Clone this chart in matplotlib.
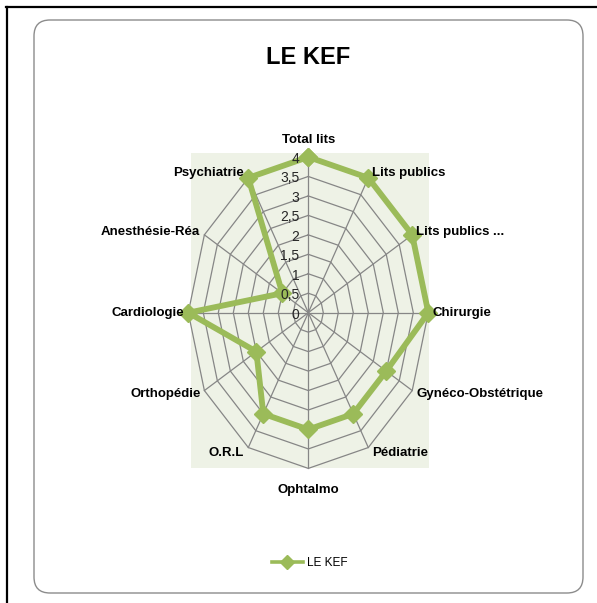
import numpy as np
import matplotlib
matplotlib.use('Agg')
import matplotlib.pyplot as plt
from matplotlib.patches import FancyBboxPatch
from matplotlib.lines import Line2D

# Données du graphique radar (LE KEF).
categories = ['Total lits', 'Lits publics', 'Lits publics ...', 'Chirurgie',
              'Gynéco-Obstétrique', 'Pédiatrie', 'Ophtalmo', 'O.R.L',
              'Orthopédie', 'Cardiologie', 'Anesthésie-Réa', 'Psychiatrie']
values = [4, 4, 4, 4, 3, 3, 3, 3, 2, 4, 1, 4]
rings = [0.5, 1, 1.5, 2, 2.5, 3, 3.5, 4]
ring_labels = ['0', '0,5', '1', '1,5', '2', '2,5', '3', '3,5', '4']
series_name = 'LE KEF'

green = '#9BBB59'
grid_color = '#868686'

plt.rcParams['font.family'] = ['Liberation Sans', 'DejaVu Sans']

fig = plt.figure(figsize=(5.97, 6.03), dpi=100)

# Cadre noir (bord gauche et haut de la capture).
fig.add_artist(Line2D([0.07, 0.07], [0, 5.96], color='black', lw=1.6,
                      transform=fig.dpi_scale_trans, zorder=-2))
fig.add_artist(Line2D([0.06, 5.97], [5.96, 5.96], color='black', lw=1.6,
                      transform=fig.dpi_scale_trans, zorder=-2))

# Cadre arrondi du graphique.
fig.add_artist(FancyBboxPatch((0.34, 0.10), 5.49, 5.73,
                              boxstyle='round,pad=0,rounding_size=0.16',
                              transform=fig.dpi_scale_trans, zorder=-2,
                              facecolor='white', edgecolor='#8c8c8c', lw=1.0))

# Zone de traçage (fond vert clair).
bg = fig.add_axes([191 / 597, 135 / 603, 238 / 597, 315 / 603])
bg.set_facecolor('#EEF2E6')
bg.set_xticks([])
bg.set_yticks([])
for s in bg.spines.values():
    s.set_visible(False)

# Axe polaire étiré comme dans l'original.
ax = fig.add_axes([188.3 / 597, 134.6 / 603, 240 / 597, 311.4 / 603], polar=True)
ax.set_theta_zero_location('N')
ax.set_theta_direction(-1)
ax.set_ylim(0, 4)
ax.set_aspect('auto')
ax.grid(False)
ax.set_xticks([])
ax.set_yticks([])
ax.spines['polar'].set_visible(False)
ax.patch.set_alpha(0)

n = len(categories)
theta = np.arange(n) * 2 * np.pi / n
theta_closed = np.append(theta, theta[0])

# Grille polygonale.
for r in rings:
    ax.plot(theta_closed, [r] * (n + 1), color=grid_color, lw=0.9, clip_on=False, zorder=1)
for t in theta:
    ax.plot([t, t], [0, 4], color=grid_color, lw=0.9, clip_on=False, zorder=1)

# Série.
vals_closed = values + values[:1]
ax.plot(theta_closed, vals_closed, color=green, lw=4.2, marker='D',
        markersize=9.5, clip_on=False, zorder=3)

# Étiquettes de l'échelle radiale.
for r, lbl in zip([0] + rings, ring_labels):
    ax.annotate(lbl, xy=(0, r), xytext=(-9, -2), textcoords='offset pixels',
                ha='right', va='center', fontsize=10, color='#262626',
                annotation_clip=False, zorder=4)

# Étiquettes des catégories.
for t, cat in zip(theta, categories):
    s, c = np.sin(t), np.cos(t)
    if abs(s) < 1e-6:
        ha = 'center'
        va = 'bottom' if c > 0 else 'top'
        off = (0, 11) if c > 0 else (0, -16)
    else:
        ha = 'left' if s > 0 else 'right'
        va = 'center'
        off = (4 * np.sign(s), 6 * c)
    ax.annotate(cat, xy=(t, 4), xytext=off, textcoords='offset pixels',
                ha=ha, va=va, fontsize=9.5, fontweight='bold',
                annotation_clip=False, zorder=4)

# Titre.
fig.text(308 / 597, 1 - 58 / 603, 'LE KEF', ha='center', va='center',
         fontsize=17, fontweight='bold')

# Légende.
handle = Line2D([], [], color=green, lw=2.6, marker='D', markersize=7.5,
                label=series_name)
fig.legend(handles=[handle], loc='center', bbox_to_anchor=(310 / 597, 1 - 563 / 603),
           frameon=False, fontsize=8.5, handlelength=2.6, handletextpad=0.4)

fig.savefig('out.png', dpi=100)
